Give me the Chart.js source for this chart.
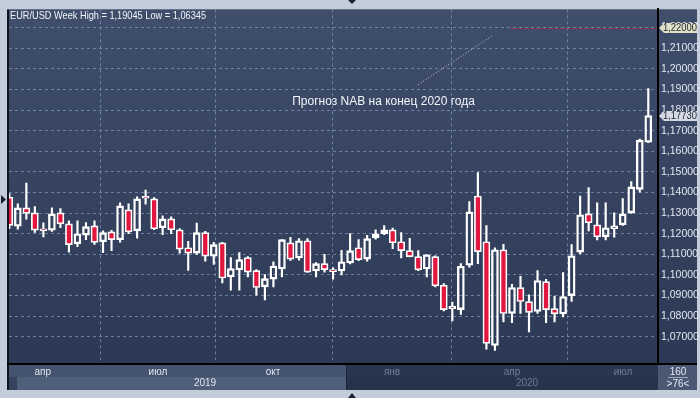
<!DOCTYPE html>
<html>
<head>
<meta charset="utf-8">
<script src="https://cdn.jsdelivr.net/npm/chart.js@4.4.1/dist/chart.umd.min.js"></script>
<style>
  html, body { margin: 0; padding: 0; background: #c3ccd9; }
  canvas { display: block; }
</style>
</head>
<body>
<canvas id="myChart" width="700" height="398"></canvas>
<script>
// weekly EUR/USD candles, one entry per week
const opens = [
  1.1377, 1.1236, 1.1325, 1.1301, 1.1224, 1.1217, 1.1301, 1.1248, 1.1151, 1.1193,
  1.1238, 1.1161, 1.1209, 1.1171, 1.1316, 1.1214, 1.1374, 1.1369, 1.1229, 1.1272,
  1.1219, 1.1132, 1.1106, 1.1205, 1.1091, 1.1156, 1.0990, 1.1024, 1.1084, 1.1021,
  1.0942, 1.0980, 1.1029, 1.1156, 1.1082, 1.1166, 1.1019, 1.1055, 1.1026, 1.1019,
  1.1058, 1.1132, 1.1077, 1.1180, 1.1200, 1.1219, 1.1161, 1.1118, 1.1089, 1.1029,
  1.1089, 1.0950, 1.0837, 1.0832, 1.1047, 1.1383, 1.1161, 1.0658, 1.1122, 1.0813,
  1.0939, 1.0871, 1.0823, 1.0968, 1.0837, 1.0811, 1.0900, 1.1111, 1.1296, 1.1243,
  1.1185, 1.1224, 1.1243, 1.1301, 1.1415, 1.1644
];
const highs = [
  1.1395, 1.1345, 1.1446, 1.1332, 1.1253, 1.1325, 1.1322, 1.1263, 1.1263, 1.1254,
  1.1263, 1.1214, 1.1216, 1.1350, 1.1345, 1.1379, 1.1412, 1.1375, 1.1287, 1.1282,
  1.1225, 1.1163, 1.1251, 1.1211, 1.1158, 1.1158, 1.1084, 1.1109, 1.1089, 1.1026,
  1.1002, 1.1064, 1.1172, 1.1182, 1.1176, 1.1176, 1.1060, 1.1100, 1.1036, 1.1119,
  1.1201, 1.1172, 1.1192, 1.1219, 1.1240, 1.1227, 1.1206, 1.1177, 1.1118, 1.1099,
  1.1093, 1.0958, 1.0868, 1.1055, 1.1356, 1.1497, 1.1240, 1.1132, 1.1148, 1.0955,
  1.0993, 1.0903, 1.1021, 1.0979, 1.0897, 1.1011, 1.1147, 1.1383, 1.1424, 1.1350,
  1.1350, 1.1301, 1.1370, 1.1453, 1.1659, 1.19045
];
const lows = [
  1.1225, 1.1222, 1.1270, 1.1206, 1.1185, 1.1211, 1.1229, 1.1111, 1.1137, 1.1171,
  1.1148, 1.1108, 1.1118, 1.1159, 1.1200, 1.1178, 1.1343, 1.1219, 1.1195, 1.1200,
  1.1106, 1.1022, 1.1100, 1.1067, 1.1051, 1.0961, 1.0926, 1.0926, 1.0990, 1.0902,
  1.0879, 1.0942, 1.0990, 1.1071, 1.1072, 1.1012, 1.0990, 1.1014, 1.0980, 1.1000,
  1.1053, 1.1069, 1.1067, 1.1174, 1.1195, 1.1127, 1.1082, 1.1087, 1.1021, 1.0990,
  1.0942, 1.0826, 1.0777, 1.0808, 1.1038, 1.1055, 1.0640, 1.06345, 1.0772, 1.0768,
  1.0813, 1.0724, 1.0813, 1.0768, 1.0772, 1.0797, 1.0871, 1.1103, 1.1213, 1.1170,
  1.1170, 1.1183, 1.1240, 1.1298, 1.1401, 1.1642
];
const closes = [
  1.1240, 1.1325, 1.1299, 1.1217, 1.1214, 1.1296, 1.1248, 1.1147, 1.1200, 1.1234,
  1.1158, 1.1205, 1.1171, 1.1335, 1.1209, 1.1369, 1.1372, 1.1224, 1.1272, 1.1219,
  1.1125, 1.1106, 1.1205, 1.1091, 1.1147, 1.0985, 1.1031, 1.1074, 1.1014, 1.0939,
  1.0982, 1.1043, 1.1171, 1.1077, 1.1166, 1.1014, 1.1055, 1.1026, 1.1016, 1.1064,
  1.1118, 1.1074, 1.1176, 1.1200, 1.1219, 1.1156, 1.1118, 1.1089, 1.1024, 1.1098,
  1.0947, 1.0832, 1.0848, 1.1042, 1.1306, 1.1113, 1.0668, 1.1122, 1.0813, 1.0939,
  1.0871, 1.0818, 1.0973, 1.0832, 1.0811, 1.0895, 1.1093, 1.1292, 1.1253, 1.1185,
  1.1229, 1.1238, 1.1296, 1.1427, 1.1654, 1.1773
];

const yTicks = [1.07, 1.08, 1.09, 1.10, 1.11, 1.12, 1.13, 1.14, 1.15, 1.16, 1.17, 1.18, 1.19, 1.20, 1.21, 1.22];
// quarter starts, in weeks from the first candle
const gridWeeks = [3.92, 17.45, 30.95, 44.92, 59.0, 72.03];
const monthLabels = ['апр', 'июл', 'окт', 'янв', 'апр', 'июл'];
const yearLabels = ['2019', '2020'];

const titleText = 'EUR/USD Week High = 1,19045 Low = 1,06345';
const forecastText = 'Прогноз NAB на конец 2020 года';
const forecastLevel = 1.22;
const lastPrice = 1.1773;

const RED = '#e2173f';
const FONT = '"Liberation Sans", Arial, sans-serif';
const weeks = opens.map((_, i) => i);
const fmt = v => v.toFixed(5).replace('.', ',');

const bgPlugin = {
  id: 'bg',
  beforeDraw(chart) {
    const ctx = chart.ctx;
    const a = chart.chartArea;
    ctx.save();
    ctx.fillStyle = '#c3ccd9';
    ctx.fillRect(0, 0, 700, 398);
    const g = ctx.createLinearGradient(0, a.top, 0, a.bottom);
    g.addColorStop(0, '#3f4e6b');
    g.addColorStop(1, '#2c3955');
    ctx.fillStyle = g;
    ctx.fillRect(a.left, a.top, 697 - a.left, a.bottom - a.top);
    // left frame line
    ctx.fillStyle = '#10141c';
    ctx.fillRect(7, a.top, 2, 390 - a.top);

    // navigator panel under the plot
    const x = chart.scales.x;
    ctx.fillStyle = '#44536e';
    ctx.fillRect(9, a.bottom, 337, 14);
    ctx.fillStyle = '#2a3650';
    ctx.fillRect(346, a.bottom, a.right - 346, 14);
    ctx.fillStyle = '#34425c';
    ctx.fillRect(9, a.bottom + 14, 8, 13);
    ctx.fillStyle = '#4f5e79';
    ctx.fillRect(17, a.bottom + 14, 329, 13);
    ctx.fillStyle = '#27334b';
    ctx.fillRect(346, a.bottom + 14, a.right - 346, 13);
    ctx.fillStyle = '#1c2436';
    ctx.fillRect(346, a.bottom, 1, 27);
    ctx.fillStyle = '#4a5874';
    ctx.fillRect(a.right, a.bottom, 697 - a.right, 27);
    ctx.fillStyle = '#000';
    ctx.fillRect(7, a.bottom, 690, 2);

    ctx.font = '10px ' + FONT;
    ctx.textAlign = 'center';
    ctx.textBaseline = 'alphabetic';
    gridWeeks.forEach((w, i) => {
      const px = x.getPixelForValue(w);
      ctx.fillStyle = px < 346 ? '#dfe6f0' : '#6f7c94';
      ctx.fillText(monthLabels[i], px, a.bottom + 12);
    });
    ctx.fillStyle = '#dfe6f0';
    ctx.fillText(yearLabels[0], 205, a.bottom + 23);
    ctx.fillStyle = '#6f7c94';
    ctx.fillText(yearLabels[1], 527, a.bottom + 23);
    ctx.fillStyle = '#e4eaf2';
    ctx.fillText('160', 678, a.bottom + 12);
    ctx.fillText('>76<', 678, a.bottom + 24);
    ctx.fillStyle = '#9aa6ba';
    ctx.fillRect(668, a.bottom + 14, 20, 1);

    // scroll arrows
    ctx.fillStyle = '#1a2030';
    ctx.beginPath();
    ctx.moveTo(348, 0); ctx.lineTo(356, 0); ctx.lineTo(352, 4); ctx.fill();
    ctx.beginPath();
    ctx.moveTo(348, 398); ctx.lineTo(356, 398); ctx.lineTo(352, 393); ctx.fill();
    ctx.beginPath();
    ctx.moveTo(1, 195); ctx.lineTo(6, 199.5); ctx.lineTo(1, 204); ctx.fill();
    ctx.restore();
  },
  afterDraw(chart) {
    const ctx = chart.ctx;
    const a = chart.chartArea;
    const x = chart.scales.x;
    const y = chart.scales.y;
    ctx.save();

    // forecast level line
    const fy = Math.round(y.getPixelForValue(forecastLevel)) + 0.5;
    ctx.strokeStyle = '#c0283f';
    ctx.lineWidth = 1;
    ctx.setLineDash([2, 2]);
    ctx.beginPath();
    ctx.moveTo(x.getPixelForValue(58.9), fy);
    ctx.lineTo(a.right, fy);
    ctx.stroke();

    // dotted pointer to the forecast
    ctx.strokeStyle = '#cfd4de';
    ctx.setLineDash([1, 2]);
    ctx.beginPath();
    ctx.moveTo(x.getPixelForValue(48), y.getPixelForValue(1.1923));
    ctx.lineTo(x.getPixelForValue(56.8), y.getPixelForValue(1.2163));
    ctx.stroke();
    ctx.setLineDash([]);

    ctx.fillStyle = '#f2f5fa';
    ctx.font = '12px ' + FONT;
    ctx.textAlign = 'left';
    ctx.textBaseline = 'alphabetic';
    ctx.fillText(forecastText, x.getPixelForValue(33.2), y.getPixelForValue(1.1825), 189);

    ctx.font = '11.5px ' + FONT;
    ctx.fillStyle = '#f2f5fa';
    ctx.fillText(titleText, 10, 19, 196);

    // price tags on the axis
    const tag = (v, bg) => {
      const ty = Math.round(y.getPixelForValue(v));
      ctx.fillStyle = bg;
      ctx.beginPath();
      ctx.moveTo(659, ty);
      ctx.lineTo(664, ty - 5);
      ctx.lineTo(697, ty - 5);
      ctx.lineTo(697, ty + 5);
      ctx.lineTo(664, ty + 5);
      ctx.closePath();
      ctx.fill();
      ctx.fillStyle = '#1c2230';
      ctx.font = '10px ' + FONT;
      ctx.textBaseline = 'middle';
      ctx.fillText(fmt(v), 663, ty + 0.5, 34);
    };
    tag(forecastLevel, '#dfe0c6');
    tag(lastPrice, '#d5d9e1');
    ctx.restore();
  }
};

const myChart = new Chart(document.getElementById('myChart'), {
  type: 'bar',
  data: {
    datasets: [
      {
        label: 'body',
        data: weeks.map(i => ({ x: i, y: [opens[i], closes[i]] })),
        backgroundColor: weeks.map(i => closes[i] < opens[i] ? RED : 'rgba(0,0,0,0)'),
        borderColor: '#ffffff',
        borderWidth: 1.7,
        borderSkipped: false,
        barThickness: 7,
        minBarLength: 2,
        order: 0
      },
      {
        label: 'upper wick',
        data: weeks.map(i => ({ x: i, y: [Math.max(opens[i], closes[i]), highs[i]] })),
        backgroundColor: '#ffffff',
        barThickness: 1.5,
        order: 1
      },
      {
        label: 'lower wick',
        data: weeks.map(i => ({ x: i, y: [lows[i], Math.min(opens[i], closes[i])] })),
        backgroundColor: '#ffffff',
        barThickness: 1.5,
        order: 2
      }
    ]
  },
  options: {
    responsive: false,
    devicePixelRatio: 1,
    animation: false,
    layout: { padding: { left: 9, top: 8, right: 0, bottom: 35 } },
    datasets: { bar: { grouped: false } },
    plugins: {
      legend: { display: false },
      tooltip: { enabled: false }
    },
    events: [],
    scales: {
      x: {
        type: 'linear',
        min: -0.035,
        max: 76.14,
        offset: false,
        afterBuildTicks: s => { s.ticks = gridWeeks.map(v => ({ value: v })); },
        afterFit: s => { s.height = 0; },
        ticks: { display: false },
        grid: { color: 'rgba(128,148,182,0.75)', drawTicks: false },
        border: { display: false, dash: [3, 3] }
      },
      y: {
        position: 'right',
        min: 1.05729,
        max: 1.228844,
        afterBuildTicks: s => { s.ticks = yTicks.map(v => ({ value: v })); },
        afterFit: s => { s.width = 42; },
        ticks: {
          callback: v => fmt(v),
          color: '#e2e8f1',
          font: { family: FONT, size: 10.5 },
          padding: 3,
          autoSkip: false
        },
        grid: { color: 'rgba(128,148,182,0.75)', drawTicks: false },
        border: { display: true, color: '#000000', width: 2, dash: [3, 3] }
      }
    }
  },
  plugins: [bgPlugin]
});
</script>
</body>
</html>
